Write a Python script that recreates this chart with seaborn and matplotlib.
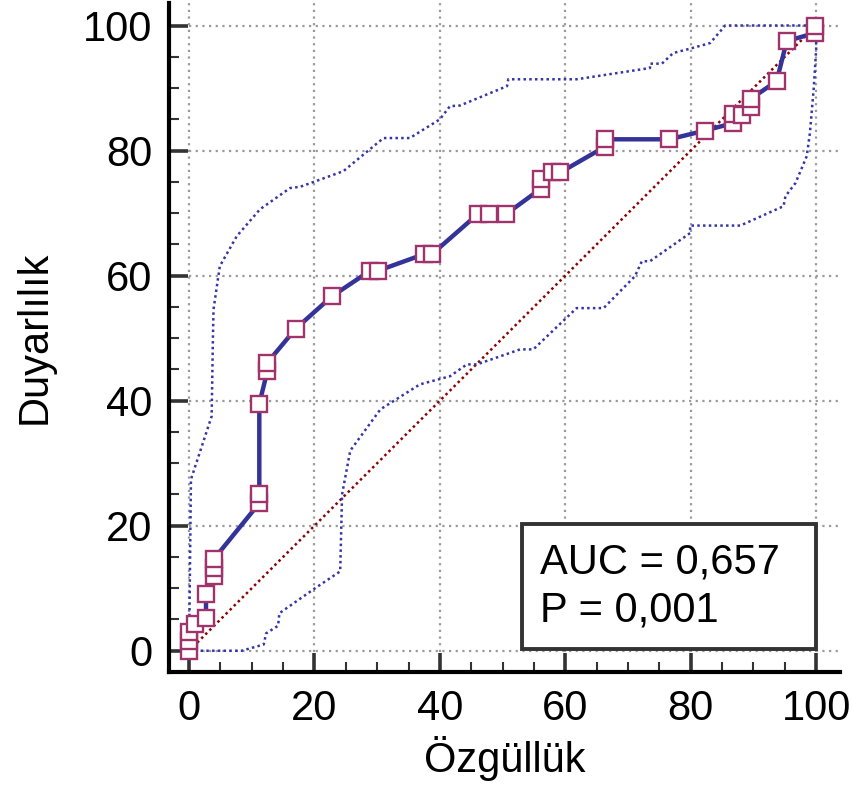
import numpy as np
import pandas as pd
import matplotlib
matplotlib.use("Agg")
import matplotlib.pyplot as plt
from matplotlib.patches import Rectangle
from matplotlib.ticker import MultipleLocator
import seaborn as sns

# ROC points (100 - specificity, sensitivity)
roc_x = [0, 0, 0, 1.0, 2.7, 2.7, 3.9, 3.9, 3.9, 11.2, 11.2, 11.2, 12.5, 12.5,
         17.0, 22.8, 28.9, 30.2, 37.4, 38.7, 46.0, 47.8, 50.5, 56.1, 56.1,
         57.8, 59.2, 66.3, 66.3, 76.6, 82.3, 86.8, 86.8, 88.1, 89.6, 89.6,
         93.7, 95.3, 99.8, 99.8]
roc_y = [0, 1.5, 3.0, 4.2, 5.2, 9.1, 11.9, 13.2, 14.6, 23.6, 25.0, 39.5, 44.8, 46.1,
         51.5, 56.7, 60.8, 60.8, 63.4, 63.4, 69.8, 69.8, 69.8, 73.9, 75.5,
         76.5, 76.5, 80.6, 81.8, 81.8, 83.2, 84.4, 85.8, 85.7, 87.0, 88.3,
         91.1, 97.5, 98.8, 100]

# confidence band, upper
upper_x = [0, 0.3, 3.6, 3.8, 3.9, 4.9, 7.6, 11.3, 16.1, 17.7, 24.6, 31.0, 35.2,
           40.0, 41.6, 43.2, 50.7, 50.9, 61.8, 73.5, 73.5, 75.4, 77.2, 79.9,
           83.1, 85.5, 100]
upper_y = [0, 27.4, 37.5, 49.8, 54.6, 61.5, 66.3, 70.6, 74.0, 74.2, 76.7, 82.0, 82.0,
           85.0, 87.1, 87.2, 90.3, 91.4, 91.4, 93.2, 93.9, 93.9, 95.6, 96.3,
           97.2, 100, 100]

# confidence band, lower
lower_x = [0, 8.4, 11.9, 12.3, 14.2, 14.4, 20.1, 24.1, 24.4, 25.7, 30.5, 36.8,
           41.6, 44.3, 45.9, 52.8, 54.9, 61.8, 66.1, 71.1, 72.2, 73.5, 79.9,
           79.9, 87.9, 94.8, 95.1, 96.7, 98.5, 99.0, 99.6, 100, 100]
lower_y = [0, 0, 1.0, 2.8, 4.0, 6.0, 10.0, 12.7, 25.0, 32.0, 38.6, 42.6,
           43.9, 45.8, 45.8, 48.2, 48.2, 54.8, 54.8, 59.9, 62.3, 62.3, 66.8,
           68.0, 68.0, 71.1, 72.7, 74.8, 79.1, 82.8, 89.8, 96.2, 100]

diag = [0, 100]

sns.set_style("white")
plt.rcParams['font.family'] = ['Liberation Sans', 'DejaVu Sans']
plt.rcParams['text.color'] = 'black'
plt.rcParams['axes.labelcolor'] = 'black'
plt.rcParams['xtick.labelcolor'] = 'black'
plt.rcParams['ytick.labelcolor'] = 'black'

fig = plt.figure(figsize=(8.54, 7.95), dpi=100)
ax = fig.add_axes([169 / 854, 123 / 795, 671 / 854, 669 / 795])

roc = pd.DataFrame({"x": roc_x, "y": roc_y})
up = pd.DataFrame({"x": upper_x, "y": upper_y})
lo = pd.DataFrame({"x": lower_x, "y": lower_y})

dots = (0, (1, 1.3))
sns.lineplot(x=diag, y=diag, ax=ax, color="#8B0000", lw=1.8, linestyle=dots,
             estimator=None, sort=False, zorder=2)
sns.lineplot(data=up, x="x", y="y", ax=ax, color="#3535A8", lw=1.8,
             linestyle=dots, estimator=None, sort=False, zorder=2)
sns.lineplot(data=lo, x="x", y="y", ax=ax, color="#3535A8", lw=1.8,
             linestyle=dots, estimator=None, sort=False, zorder=2)
sns.lineplot(data=roc, x="x", y="y", ax=ax, color="#333399", lw=3.2,
             marker="s", markersize=11.5, markerfacecolor="white",
             markeredgecolor="#A0336B", markeredgewidth=1.7,
             estimator=None, sort=False, zorder=3)

ax.set_xlim(-3.2, 103.8)
ax.set_ylim(-3.4, 103.6)
ax.xaxis.set_major_locator(MultipleLocator(20))
ax.yaxis.set_major_locator(MultipleLocator(20))
ax.xaxis.set_minor_locator(MultipleLocator(5))
ax.yaxis.set_minor_locator(MultipleLocator(5))
ax.grid(True, which="major", color="#9a9a9a", linestyle=(0, (1, 2)), lw=1.6)
ax.set_axisbelow(True)

for s in ["top", "right"]:
    ax.spines[s].set_visible(False)
for s in ["left", "bottom"]:
    ax.spines[s].set_color("black")
    ax.spines[s].set_linewidth(3)

ax.tick_params(which="major", direction="in", length=14, width=2.6,
               color="#333333", labelsize=30, labelcolor="black", pad=12)
ax.tick_params(which="minor", direction="in", length=7.5, width=1.5,
               color="#333333")
ax.tick_params(axis="x", which="both", bottom=True)
ax.tick_params(axis="y", which="both", left=True)

ax.set_xlabel("Özgüllük", fontsize=30, color="black")
ax.set_ylabel("Duyarlılık", fontsize=30, color="black")
ax.xaxis.set_label_coords(0.5, -0.095)
ax.yaxis.set_label_coords(-0.17, 0.5)

# AUC box
ax.add_patch(Rectangle((53.1, 0.3), 46.8, 19.9, facecolor="white",
                       edgecolor="#333333", lw=2.8, zorder=4))
ax.text(56.0, 12.4, "AUC = 0,657", fontsize=30, va="baseline", zorder=5)
ax.text(56.0, 4.7, "P = 0,001", fontsize=30, va="baseline", zorder=5)

fig.savefig("out.png", dpi=100)
